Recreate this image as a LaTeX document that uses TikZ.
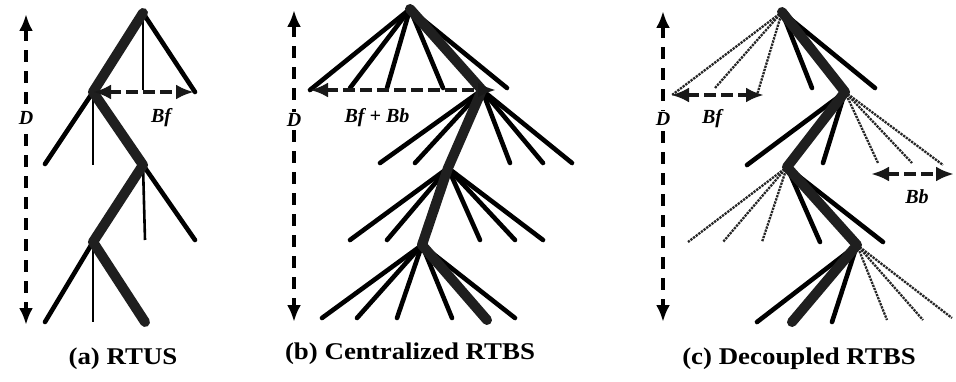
\documentclass[tikz,border=0pt]{standalone}
\usepackage{fontspec}
\setmainfont{Liberation Serif}
\usetikzlibrary{arrows.meta}
\begin{document}
\begin{tikzpicture}[x=1pt,y=-1pt,
  branch/.style={line width=4.6pt, line cap=round},
  stemline/.style={line width=2.6pt},
  hotpath/.style={line width=10pt, black!88, line cap=round, line join=round},
  faint/.style={line width=2.3pt, densely dotted, black!85},
  dline/.style={line width=3.8pt, dash pattern=on 12pt off 9pt,
    {Latex[length=17pt,width=14pt]}-{Latex[length=17pt,width=14pt]}},
  spanline/.style={line width=4.2pt, dash pattern=on 12pt off 5pt, black!90,
    {Latex[length=18pt,width=15pt]}-{Latex[length=18pt,width=15pt]}},
  blabel/.style={font=\fontsize{20}{20}\selectfont\bfseries\itshape, inner sep=1pt},
  caption/.style={font=\fontsize{24}{24}\selectfont\bfseries}
]
\useasboundingbox (0,0) rectangle (956,382);

% ---------------- (a) RTUS ----------------
\coordinate (a0) at (143,13);
\coordinate (a1) at (93,92);
\coordinate (a1m) at (143,90);
\coordinate (a1r) at (195,92);
\coordinate (a2l) at (45,164);
\coordinate (a2m) at (93,165);
\coordinate (a2) at (143,165);
\coordinate (a3) at (93,242);
\coordinate (a3m) at (145,240);
\coordinate (a3r) at (195,240);
\coordinate (a4l) at (45,322);
\coordinate (a4m) at (93,322);
\coordinate (a4r) at (145,322);
\coordinate (aBf) at (194,92);
\coordinate (aDt) at (26,14);
\coordinate (aDb) at (26,325);

\draw[branch] (a0) -- (a1r);
\draw[stemline] (a0) -- (a1m);
\draw[branch] (a1) -- (a2l);
\draw[stemline] (a1) -- (a2m);
\draw[branch] (a2) -- (a3r);
\draw[stemline] (a2) -- (a3m);
\draw[branch] (a3) -- (a4l);
\draw[stemline] (a3) -- (a4m);
\draw[hotpath] (a0) -- (a1) -- (a2) -- (a3) -- (a4r);
\draw[spanline] (a1) -- (aBf);
\node[blabel] (aBfl) at (161,118) {Bf};
\draw[dline] (aDt) -- (aDb);
\node[blabel, fill=white] (aD) at (26,118) {D};
\node[caption] (acap) at (123,359) {\scalebox{1.12}[1]{(a) RTUS}};

% ---------------- (b) Centralized RTBS ----------------
\coordinate (b0) at (410,9);
\coordinate (b1) at (482,90);
\coordinate (b2) at (448,168);
\coordinate (b3) at (422,245);
\coordinate (b4) at (487,320);
\foreach \x/\y [count=\i] in {310/90,350/88,387/88,443/88,507/88}
  {\coordinate (bk0\i) at (\x,\y); \draw[branch] (b0) -- (bk0\i);}
\foreach \x/\y [count=\i] in {380/163,415/163,510/163,543/163,572/163}
  {\coordinate (bk1\i) at (\x,\y); \draw[branch] (b1) -- (bk1\i);}
\foreach \x/\y [count=\i] in {350/240,387/240,480/240,515/240,543/240}
  {\coordinate (bk2\i) at (\x,\y); \draw[branch] (b2) -- (bk2\i);}
\foreach \x/\y [count=\i] in {322/318,357/318,397/318,452/318,515/318}
  {\coordinate (bk3\i) at (\x,\y); \draw[branch] (b3) -- (bk3\i);}
\draw[hotpath] (b0) -- (b1) -- (b2) -- (b3) -- (b4);
\coordinate (bR) at (496,90);
\draw[spanline] (bk01) -- (bR);
\node[blabel] (bBl) at (377,118) {Bf + Bb};
\coordinate (bDt) at (294,10);
\coordinate (bDb) at (294,322);
\draw[dline] (bDt) -- (bDb);
\node[blabel, fill=white] (bD) at (294,120) {D};
\node[caption] (bcap) at (410,354) {\scalebox{1.12}[1]{(b) Centralized RTBS}};

% ---------------- (c) Decoupled RTBS ----------------
\coordinate (c0) at (782,12);
\coordinate (c1) at (845,92);
\coordinate (c2) at (787,167);
\coordinate (c3) at (857,245);
\coordinate (c4) at (792,322);
% level 1
\foreach \x/\y [count=\i] in {672/95,715/88,757/95}
  {\coordinate (cd0\i) at (\x,\y); \draw[faint] (c0) -- (cd0\i);}
\foreach \x/\y [count=\i] in {812/88,875/88}
  {\coordinate (cs0\i) at (\x,\y); \draw[branch] (c0) -- (cs0\i);}
% level 2
\foreach \x/\y [count=\i] in {878/163,912/163,943/165}
  {\coordinate (cd1\i) at (\x,\y); \draw[faint] (c1) -- (cd1\i);}
\foreach \x/\y [count=\i] in {747/165,823/163}
  {\coordinate (cs1\i) at (\x,\y); \draw[branch] (c1) -- (cs1\i);}
% level 3
\foreach \x/\y [count=\i] in {688/242,723/242,762/242}
  {\coordinate (cd2\i) at (\x,\y); \draw[faint] (c2) -- (cd2\i);}
\foreach \x/\y [count=\i] in {820/242,883/242}
  {\coordinate (cs2\i) at (\x,\y); \draw[branch] (c2) -- (cs2\i);}
% level 4
\foreach \x/\y [count=\i] in {887/320,923/320,952/318}
  {\coordinate (cd3\i) at (\x,\y); \draw[faint] (c3) -- (cd3\i);}
\foreach \x/\y [count=\i] in {757/322,832/322}
  {\coordinate (cs3\i) at (\x,\y); \draw[branch] (c3) -- (cs3\i);}
\draw[hotpath] (c0) -- (c1) -- (c2) -- (c3) -- (c4);
\coordinate (cBfl) at (671,95);
\coordinate (cBfr) at (764,95);
\draw[spanline] (cBfl) -- (cBfr);
\node[blabel] (cBf) at (712,119) {Bf};
\coordinate (cBbl) at (871,174);
\coordinate (cBbr) at (954,174);
\draw[spanline] (cBbl) -- (cBbr);
\node[blabel] (cBb) at (917,197) {Bb};
\coordinate (cDt) at (663,11);
\coordinate (cDb) at (663,322);
\draw[dline] (cDt) -- (cDb);
\node[blabel, fill=white] (cD) at (663,119) {D};
\node[caption] (ccap) at (799,359) {\scalebox{1.12}[1]{(c) Decoupled RTBS}};
\end{tikzpicture}
\end{document}
